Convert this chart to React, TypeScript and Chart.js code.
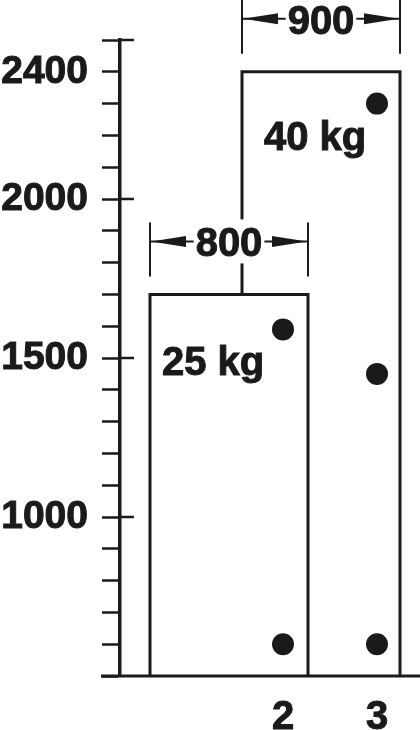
import React, { useEffect, useRef } from "react";
import { Chart, registerables, Plugin } from "chart.js";

Chart.register(...registerables);

// door height scale (mm)
const yMin = 500;
const yMax = 2500;
const yStep = 100;
const yLabels = [1000, 1500, 2000, 2400];

// the two doors
const doorWidths = [800, 900];
const doorHeights = [1700, 2400];
const doorWeights = [25, 40];
const hingeCounts = [2, 3];
const hingePositions = [
    [1590, 600],
    [2300, 1450, 600],
];

// layout only: x in px right of the y axis
const boxX = [
    [30, 188],
    [122, 280],
];
const hingeX = [163, 257];
const weightOffset = [
    [12, 81],
    [22, 78],
];

const INK = "#1a1a1a";
const FAMILY = "'Liberation Sans', Arial, sans-serif";
const FONT = `bold 40px ${FAMILY}`;

function line(ctx: CanvasRenderingContext2D, x1: number, y1: number, x2: number, y2: number) {
    ctx.beginPath();
    ctx.moveTo(x1, y1);
    ctx.lineTo(x2, y2);
    ctx.stroke();
}

function arrowHead(ctx: CanvasRenderingContext2D, tipX: number, y: number, dir: number) {
    ctx.beginPath();
    ctx.moveTo(tipX, y);
    ctx.lineTo(tipX + dir * 35, y - 5.5);
    ctx.lineTo(tipX + dir * 35, y + 5.5);
    ctx.closePath();
    ctx.fill();
}

function text(ctx: CanvasRenderingContext2D, s: string, x: number, y: number) {
    ctx.fillText(s, x, y);
    ctx.strokeText(s, x, y);
}

const drawing: Plugin = {
    id: "drawing",
    afterDraw(chart) {
        const { ctx, chartArea } = chart;
        const xs = chart.scales.x;
        const ys = chart.scales.y;
        ctx.save();
        ctx.strokeStyle = INK;
        ctx.fillStyle = INK;

        // base line
        ctx.lineWidth = 3;
        line(ctx, chartArea.left - 19, chartArea.bottom, chart.width, chartArea.bottom);

        // major ticks also poke out to the right
        ctx.lineWidth = 2.5;
        for (let v = yMin + 500; v <= yMax; v += 500) {
            const py = ys.getPixelForValue(v);
            line(ctx, chartArea.left, py, chartArea.left + 14, py);
        }

        ctx.font = FONT;
        doorWidths.forEach((w, i) => {
            const l = xs.getPixelForValue(boxX[i][0]);
            const r = xs.getPixelForValue(boxX[i][1]);
            const top = ys.getPixelForValue(doorHeights[i]);
            const ay = top - 53;

            // dimension: extension lines, arrows, value
            ctx.lineWidth = 2;
            line(ctx, l, top - 18, l, top - 72);
            line(ctx, r, top - 18, r, top - 72);
            const label = String(w);
            const tw = ctx.measureText(label).width;
            const cx = (l + r) / 2;
            ctx.fillStyle = "#ffffff";
            ctx.fillRect(cx - tw / 2 - 2, ay - 22, tw + 4, 44);
            ctx.fillStyle = INK;
            line(ctx, l, ay, cx - tw / 2 - 2, ay);
            line(ctx, cx + tw / 2 + 2, ay, r, ay);
            arrowHead(ctx, l + 1, ay, 1);
            arrowHead(ctx, r - 1, ay, -1);
            ctx.lineWidth = 1;
            ctx.textAlign = "center";
            ctx.textBaseline = "alphabetic";
            text(ctx, label, cx, ay + 15);

            // weight
            ctx.textAlign = "left";
            text(ctx, `${doorWeights[i]} kg`, l + weightOffset[i][0], top + weightOffset[i][1]);

            // hinge count under the column
            ctx.textAlign = "center";
            text(ctx, String(hingeCounts[i]), xs.getPixelForValue(hingeX[i]), chartArea.bottom + 53);
        });
        ctx.restore();
    },
};

export default function App() {
    const canvas = useRef<HTMLCanvasElement>(null);

    useEffect(() => {
        const outlines = doorHeights.map((h, i) => {
            const start = i > 0 ? doorHeights[i - 1] : yMin;
            return {
                type: "line" as const,
                data: [
                    { x: boxX[i][0], y: start },
                    { x: boxX[i][0], y: h },
                    { x: boxX[i][1], y: h },
                    { x: boxX[i][1], y: yMin },
                ],
                borderColor: INK,
                borderWidth: 3,
                pointRadius: 0,
                fill: false,
                tension: 0,
                clip: false as const,
            };
        });
        const hinges = {
            type: "scatter" as const,
            data: hingePositions.flatMap((col, i) => col.map((v) => ({ x: hingeX[i], y: v }))),
            backgroundColor: INK,
            borderWidth: 0,
            pointRadius: 11,
            clip: false as const,
        };

        const chart = new Chart(canvas.current!, {
            type: "scatter",
            data: { datasets: [...outlines, hinges] as any },
            options: {
                animation: false,
                responsive: true,
                maintainAspectRatio: false,
                layout: { autoPadding: false, padding: { top: 40, bottom: 54, left: 0, right: 0 } },
                plugins: { legend: { display: false }, tooltip: { enabled: false } },
                scales: {
                    x: { type: "linear", min: 0, max: 300, display: false },
                    y: {
                        type: "linear",
                        min: yMin,
                        max: yMax,
                        afterFit: (s: any) => {
                            s.width = 120;
                            s.paddingTop = 0;
                            s.paddingBottom = 0;
                        },
                        ticks: {
                            stepSize: yStep,
                            autoSkip: false,
                            padding: 14,
                            color: INK,
                            textStrokeColor: INK,
                            textStrokeWidth: 1,
                            font: { family: FAMILY, size: 39, weight: "bold" },
                            callback: (v: any) => (yLabels.includes(Number(v)) ? String(v) : ""),
                        },
                        grid: {
                            drawOnChartArea: false,
                            drawTicks: true,
                            tickLength: 18,
                            tickWidth: 2.5,
                            tickColor: INK,
                        },
                        border: { display: true, color: INK, width: 3.5 },
                    },
                },
            },
            plugins: [drawing],
        });

        return () => {
            chart.destroy();
        };
    }, []);

    return (
        <div style={{ position: "absolute", left: 0, top: 0, width: 420, height: 730, background: "#fff" }}>
            <canvas ref={canvas}></canvas>
        </div>
    );
}
